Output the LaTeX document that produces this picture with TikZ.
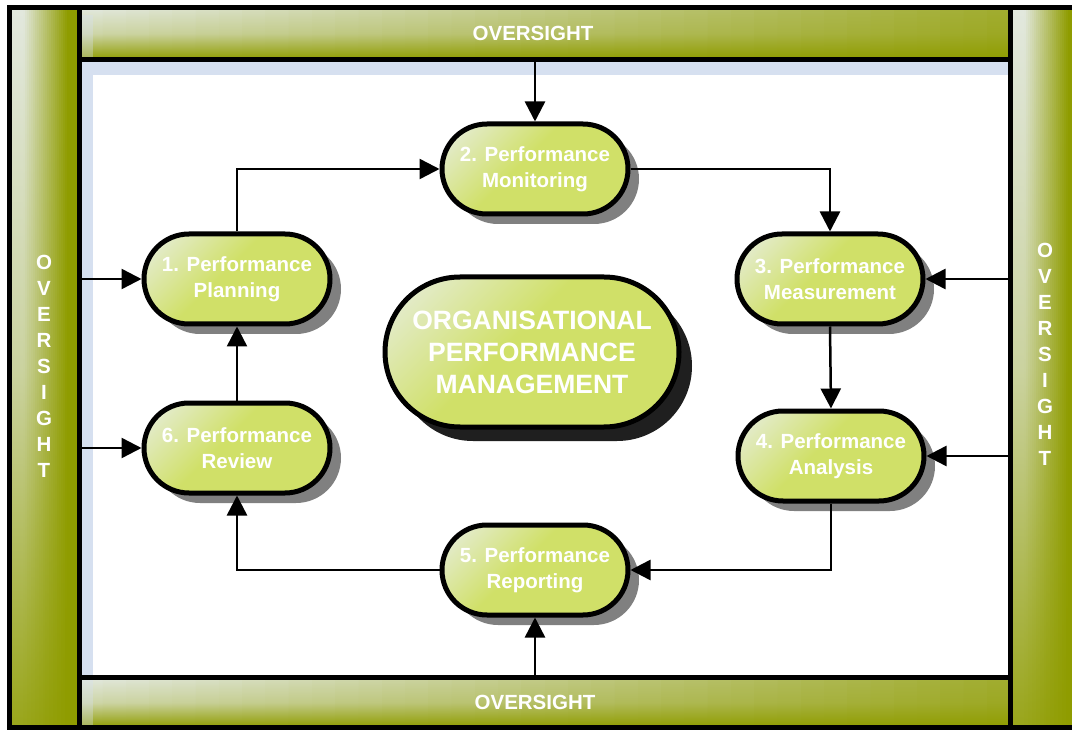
\documentclass[tikz,border=0pt]{standalone}
\usepackage{fontspec}
\setmainfont{Liberation Sans}
\usetikzlibrary{arrows.meta,shadows}
\definecolor{olivebar}{RGB}{143,156,0}
\definecolor{barlight}{RGB}{226,232,222}
\definecolor{nodelight}{RGB}{232,238,226}
\definecolor{nodedark}{RGB}{208,224,104}
\definecolor{bluestrip}{RGB}{214,224,240}
\definecolor{shadowgray}{RGB}{128,128,128}
\pgfdeclarehorizontalshading{nodeshade}{100bp}{color(0bp)=(nodelight); color(15bp)=(nodelight); color(45bp)=(nodedark); color(100bp)=(nodedark)}
\tikzset{
  barframe/.style={draw=black, line width=5pt},
  proc/.style={draw=black, line width=5pt, shading=nodeshade, shading angle=-45,
    rounded corners=45pt, minimum width=186pt, minimum height=90pt,
    text=white, font=\bfseries\fontsize{20.5}{26}\selectfont, align=center, inner sep=0pt,
    drop shadow={shadow xshift=11pt, shadow yshift=-10pt, fill=shadowgray, opacity=1}},
  core/.style={draw=black, line width=5pt, shading=nodeshade, shading angle=-45,
    rounded corners=75pt, minimum width=294pt, minimum height=150pt,
    text=white, font=\bfseries\fontsize{26.5}{32}\selectfont, align=center, inner sep=0pt,
    drop shadow={shadow xshift=13pt, shadow yshift=-14pt, fill=black!88, opacity=1}},
  barlabel/.style={text=white, font=\bfseries\fontsize{20.5}{26}\selectfont, align=center, inner sep=0pt},
  conn/.style={draw=black, line width=2.5pt, -{Triangle[length=20pt,width=20pt]}}
}
\begin{document}
\begin{tikzpicture}[x=1pt,y=-1pt]
\useasboundingbox (0,0) rectangle (1072,730);
% white inner area and blue strips
\fill[white] (80,60) rectangle (1010,677);
\fill[bluestrip] (82,62) rectangle (1008,75);
\fill[bluestrip] (82,62) rectangle (93,675);
% side bars: columns, each fading to olive downwards
\foreach \j in {0,...,34} {
  \pgfmathsetmacro\f{min(1,max(0,(0.85-\j/34)/0.65))}
  \pgfmathtruncatemacro\p{100*\f}
  \pgfmathtruncatemacro\q{72*\f}
  \pgfmathtruncatemacro\r{12*\f}
  \pgfmathsetmacro\xa{9+2.014*\j}
  \pgfmathsetmacro\xb{\xa+2.4}
  \pgfmathsetmacro\xc{1010.5+2*\j}
  \pgfmathsetmacro\xd{\xc+2.4}
  \shade[top color=barlight!\p!olivebar, bottom color=barlight!\r!olivebar, middle color=barlight!\q!olivebar] (\xa,7.5) rectangle (\xb,727.5);
  \shade[top color=barlight!\p!olivebar, bottom color=barlight!\r!olivebar, middle color=barlight!\q!olivebar] (\xc,7.5) rectangle (\xd,727.5);
}
% top and bottom bars: vertical gradient fading to olive rightwards
\foreach \i in {0,...,39} {
  \pgfmathtruncatemacro\p{100-2.0*\i}
  \pgfmathtruncatemacro\q{0.75*(100-2.0*\i)}
  \pgfmathsetmacro\xa{79.5+23.275*\i}
  \pgfmathsetmacro\xb{\xa+23.9}
  \shade[top color=barlight!\p!olivebar, bottom color=olivebar, middle color=barlight!\q!olivebar] (\xa,7.5) rectangle (\xb,59.5);
  \shade[top color=barlight!\p!olivebar, bottom color=olivebar, middle color=barlight!\q!olivebar] (\xa,677.5) rectangle (\xb,727.5);
}
\fill[bluestrip, opacity=0.35] (82,15) rectangle (93,57);
\fill[bluestrip, opacity=0.35] (82,680) rectangle (93,725);
% bar outlines
\draw[barframe] (9,7.5) rectangle (1080,727.5);
\draw[barframe] (79.5,7.5) -- (79.5,727.5);
\draw[barframe] (1010.5,7.5) -- (1010.5,727.5);
\draw[barframe] (79.5,59.5) -- (1010.5,59.5);
\draw[barframe] (79.5,677.5) -- (1010.5,677.5);
% bar labels
\node[barlabel] (otop) at (533,33) {OVERSIGHT};
\node[barlabel] (obot) at (535,702) {OVERSIGHT};
\node[barlabel] (oleft) at (44,366) {O\\V\\E\\R\\S\\I\\G\\H\\T};
\node[barlabel] (oright) at (1045,354) {O\\V\\E\\R\\S\\I\\G\\H\\T};
% coordinates on the bars
\coordinate (T) at (535,62);
\coordinate (B) at (535,675);
\coordinate (L1) at (82,279);
\coordinate (L2) at (82,448);
\coordinate (R1) at (1008,279);
\coordinate (R2) at (1008,456);
% process nodes
\node[proc] (N1) at (237,279) {1. Performance\\Planning};
\node[proc] (N2) at (535,169) {2. Performance\\Monitoring};
\node[proc] (N3) at (830,279) {3. Performance\\Measurement};
\node[proc] (N4) at (831,456) {4. Performance\\Analysis};
\node[proc] (N5) at (535,570) {5. Performance\\Reporting};
\node[proc] (N6) at (237,448) {6. Performance\\Review};
\node[core] (C) at (532,352) {ORGANISATIONAL\\PERFORMANCE\\MANAGEMENT};
% connectors
\draw[conn] (N1.north) |- (N2.west);
\draw[conn] (N2.east) -| (N3.north);
\draw[conn] (N3.south) -- (N4.north);
\draw[conn] (N4.south) |- (N5.east);
\draw[conn] (N5.west) -| (N6.south);
\draw[conn] (N6.north) -- (N1.south);
\draw[conn] (T) -- (N2.north);
\draw[conn] (B) -- (N5.south);
\draw[conn] (L1) -- (N1.west);
\draw[conn] (L2) -- (N6.west);
\draw[conn] (R1) -- (N3.east);
\draw[conn] (R2) -- (N4.east);
\end{tikzpicture}
\end{document}
